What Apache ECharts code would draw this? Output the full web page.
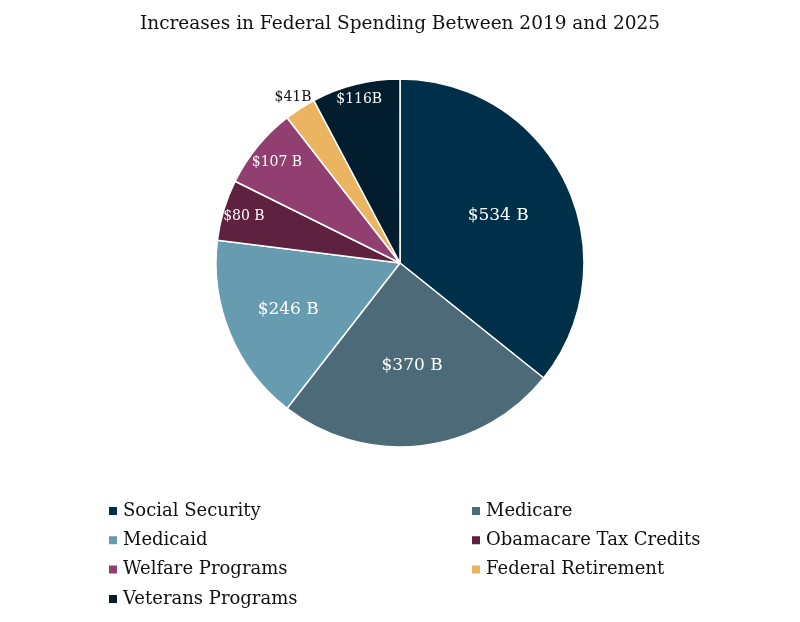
<!DOCTYPE html>
<html><head><meta charset="utf-8">
<script src="https://cdn.jsdelivr.net/npm/echarts@6/dist/echarts.min.js"></script>
<style>html,body{margin:0;padding:0;background:#fff}#c{width:800px;height:622px}</style>
</head><body><div id="c"></div>
<script>
var categories = ['Social Security','Medicare','Medicaid','Obamacare Tax Credits','Welfare Programs','Federal Retirement','Veterans Programs'];
var values = [534, 370, 246, 80, 107, 41, 116];
var labels = ['$534 B','$370 B','$246 B','$80 B','$107 B','$41B','$116B'];
var colors = ['#003049','#4d6a79','#669bb0','#5e2140','#913f70','#ebb460','#011d2e'];
var FONT = 'DejaVu Serif';
var center = ['400','263'];
var R = 184;
// radial distance of each label from the pie centre
var labelDist = [106, 100, 118, 160, 156, 194, 166];
var labelColor = ['#fff','#fff','#fff','#fff','#fff','#111','#fff'];
var labelSize = [17, 17, 17, 14, 14, 14, 14];

function mainData(){
  return categories.map(function(n,i){return {name:n,value:values[i],itemStyle:{color:colors[i]}};});
}
function labelSeries(k){
  return {
    type:'pie', silent:true, center:center, radius:[0, labelDist[k]*2],
    startAngle:90, clockwise:true, z:5, animation:false,
    tooltip:{show:false}, legendHoverLink:false,
    itemStyle:{color:'rgba(0,0,0,0)',borderWidth:0},
    labelLine:{show:false},
    data: categories.map(function(n,i){
      return {name:n,value:values[i],
        label:{show:i===k, position:'inside', formatter:labels[i],
          color:labelColor[i], fontFamily:FONT, fontSize:labelSize[i]}};
    })
  };
}
var series = [
  {type:'pie',center:center,radius:[0,R],startAngle:90,clockwise:true,
   itemStyle:{borderColor:'#fff',borderWidth:1.5},
   label:{show:false},labelLine:{show:false},
   data:mainData()}
];
for (var k=0;k<categories.length;k++) series.push(labelSeries(k));

var legendText = {fontFamily:FONT,fontSize:18,color:'#111'};
var chart = echarts.init(document.getElementById('c'));
chart.setOption({
  animation:false,
  title:{text:'Increases in Federal Spending Between 2019 and 2025',left:'center',top:10,
    textStyle:{fontFamily:FONT,fontWeight:'normal',fontSize:18.5,color:'#111'}},
  legend:[
    {orient:'vertical',left:102,top:497,itemWidth:10,itemHeight:10,itemGap:11.3,icon:'rect',
     data:[categories[0],categories[2],categories[4],categories[6]],textStyle:legendText},
    {orient:'vertical',left:465,top:497,itemWidth:10,itemHeight:10,itemGap:11.3,icon:'rect',
     data:[categories[1],categories[3],categories[5]],textStyle:legendText}
  ],
  series:series
});
</script></body></html>
